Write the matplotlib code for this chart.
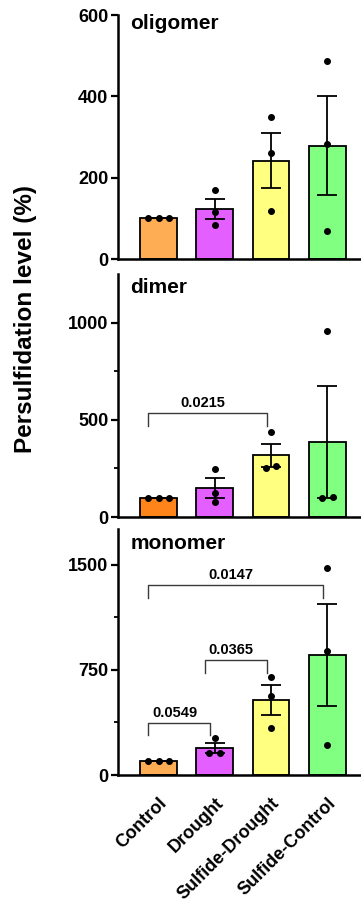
import matplotlib
matplotlib.use("Agg")
import matplotlib.pyplot as plt
import numpy as np

plt.rcParams['font.family'] = ['Liberation Sans', 'DejaVu Sans']
plt.rcParams['font.weight'] = 'bold'

## data (three replicates per group)
groups = ["Control", "Drought", "Sulfide-Drought", "Sulfide-Control"]
oligomer_vals = [[100, 100, 100], [170, 116, 83], [348, 261, 117], [486, 283, 68]]
dimer_vals = [[100, 100, 100], [246, 122, 79], [438, 250, 263], [959, 96, 104]]
monomer_vals = [[100, 100, 100], [262, 155, 155], [702, 567, 338], [1476, 886, 214]]

## significance brackets: (p-value, group a, group b, bracket height)
dimer_pvals = [("0.0215", 0, 2, 533)]
monomer_pvals = [("0.0549", 0, 1, 374), ("0.0365", 1, 2, 821), ("0.0147", 0, 3, 1357)]

## axis settings per panel
oligomer_ticks = [0, 200, 400, 600]
dimer_ticks = [0, 500, 1000]
monomer_ticks = [0, 750, 1500]

pale_orange = "#FFAD55"
deep_orange = "#FF8419"
colors_oligo = [pale_orange, "#E35FFF", "#FFFF80", "#80FF80"]
colors_dimer = [deep_orange, "#E35FFF", "#FFFF80", "#80FF80"]
colors_mono = [pale_orange, "#E35FFF", "#FFFF80", "#80FF80"]

W, H = 361, 902
fig = plt.figure(figsize=(W / 100, H / 100), dpi=100)

AX_LEFT = 118 / W
# (top px, bottom px) of each panel
panel_px = [(15, 259), (274, 517), (529, 775)]


def swarm_offsets(vals, thresh, step=0.19):
    '''spread points that would overlap, like the prism scatter'''
    vals = np.asarray(vals, dtype=float)
    order = np.argsort(vals)
    offs = np.zeros(len(vals))
    clusters = [[order[0]]]
    for k in order[1:]:
        if abs(vals[k] - vals[clusters[-1][-1]]) < thresh:
            clusters[-1].append(k)
        else:
            clusters.append([k])
    for c in clusters:
        n = len(c)
        for m, k in enumerate(c):
            offs[k] = (m - (n - 1) / 2) * step
    return offs


def draw_panel(ax, vals, colors, ymax, ticks, minor, title, title_y, brackets=()):
    x = np.arange(len(groups))
    means = np.array([np.mean(v) for v in vals])
    sems = np.array([np.std(v, ddof=1) / np.sqrt(len(v)) for v in vals])

    ax.bar(x, means, width=0.65, color=colors, edgecolor='black', linewidth=1.3, zorder=2)
    ax.errorbar(x, means, yerr=sems, fmt='none', ecolor='black', elinewidth=1.3,
                capsize=7, capthick=1.3, zorder=3)
    thresh = 5 / 244 * ymax
    for i, v in enumerate(vals):
        offs = swarm_offsets(v, thresh)
        ax.plot(x[i] + offs, v, 'o', color='black', markersize=4, zorder=4)

    leg = 0.052 * ymax
    for p, a, b, yb in brackets:
        xa, xb = a - 0.18, b - 0.08
        ax.plot([xa, xa, xb, xb], [yb - leg, yb, yb, yb - leg], color='#3a3a3a',
                linewidth=1.0, zorder=3)
        ax.text((xa + xb) / 2 - 0.08, yb + 0.012 * ymax, p, ha='center', va='bottom',
                fontsize=10.5, fontweight='bold')

    ax.set_xlim(-0.72, 3.6)
    ax.set_ylim(0, ymax)
    ax.set_yticks(ticks)
    if minor:
        ax.set_yticks(minor, minor=True)
    ax.tick_params(axis='y', which='major', length=5, width=1.6, labelsize=13, pad=2)
    ax.tick_params(axis='y', which='minor', length=3, width=1.3)
    ax.tick_params(axis='x', length=0)
    for s in ['top', 'right']:
        ax.spines[s].set_visible(False)
    for s in ['left', 'bottom']:
        ax.spines[s].set_linewidth(1.8)
    for lab in ax.get_yticklabels():
        lab.set_fontweight('bold')
    ax.text(0.05, title_y, title, transform=ax.transAxes, fontsize=15,
            fontweight='bold', ha='left', va='center')


axes = []
for top, bot in panel_px:
    ax = fig.add_axes([AX_LEFT, 1 - bot / H, 1 - AX_LEFT, (bot - top) / H])
    axes.append(ax)

draw_panel(axes[0], oligomer_vals, colors_oligo, 600, oligomer_ticks, None,
           "oligomer", 0.967)
draw_panel(axes[1], dimer_vals, colors_dimer, 1250, dimer_ticks, [250, 750],
           "dimer", 0.944, dimer_pvals)
draw_panel(axes[2], monomer_vals, colors_mono, 1755, monomer_ticks, [375, 1125],
           "monomer", 0.94, monomer_pvals)

axes[0].set_xticks([])
axes[1].set_xticks([])
axes[2].set_xticks(np.arange(len(groups)))
axes[2].set_xticklabels(groups, rotation=45, ha='right', va='top',
                        rotation_mode='anchor', fontsize=13, fontweight='bold')
axes[2].tick_params(axis='x', pad=14)

fig.text(26 / W, 1 - 319 / H, "Persulfidation level (%)", rotation=90,
         ha='center', va='center', fontsize=17.5, fontweight='bold')

fig.savefig("out.png", dpi=100)
